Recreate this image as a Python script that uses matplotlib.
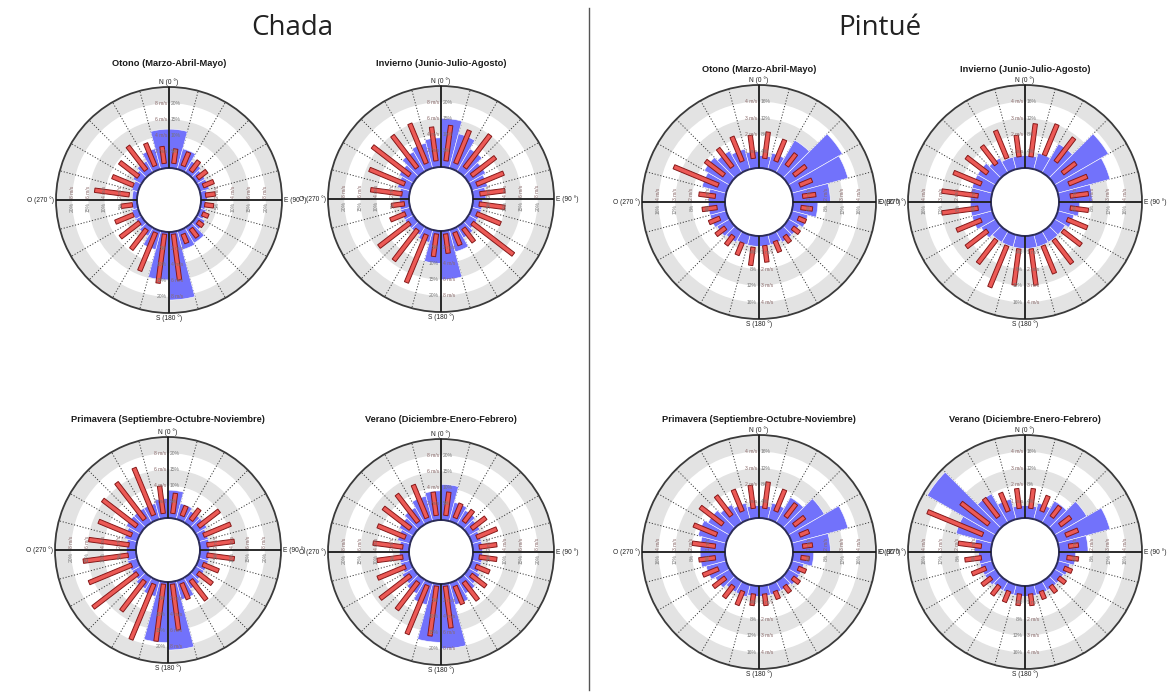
import numpy as np
import matplotlib
matplotlib.use("Agg")
import matplotlib.pyplot as plt
from matplotlib.lines import Line2D

W, H, DPI = 1170, 694, 100

# 24 direction sectors of 15 degrees, centred on 7.5, 22.5, ... (N = 0, clockwise)
sector_deg = np.arange(7.5, 360, 15)

# ---- Chada: frequency (%) and speed range low/high (m/s) per sector ----
chada_otono_freq = [12, 6.5, 4, 3, 3, 2, 1.5, 2, 3, 5.5, 6, 21,
                    14.8, 6, 3, 2, 2, 1.5, 1.5, 2, 3, 4, 6.5, 12]
chada_otono_low = [0.6, 0.6, 0.5, 0.5, 0.6, 0.6, 0.5, 0.5, 0.5, 0.5, 0.6, 0.3,
                   0.3, 0.4, 0.6, 0.6, 0.8, 0.6, 1.0, 0.8, 0.8, 0.7, 0.6, 0.6]
chada_otono_high = [2.4, 2.4, 2.1, 1.9, 2.0, 1.8, 1.6, 1.3, 1.3, 1.8, 1.8, 6.0,
                    6.4, 5.5, 3.7, 3.6, 3.2, 2.0, 5.3, 3.6, 3.7, 4.4, 3.6, 2.7]

chada_invierno_freq = [15, 11, 8, 6, 5, 4, 3, 3, 3, 4, 7, 15,
                       10, 4, 3, 3, 3, 3, 3, 4, 5, 7, 8, 9]
chada_invierno_low = [0.8, 0.8, 0.9, 0.8, 0.8, 0.9, 0.8, 0.8, 0.9, 0.6, 0.5, 0.4,
                      0.4, 0.8, 0.8, 0.9, 0.8, 0.6, 0.9, 0.9, 0.9, 0.9, 0.8, 0.8]
chada_invierno_high = [5.2, 5.2, 6.0, 4.5, 4.4, 4.0, 4.0, 4.0, 7.3, 2.7, 2.2, 2.8,
                       3.2, 7.2, 5.6, 5.7, 2.8, 2.2, 4.8, 5.6, 6.7, 5.9, 6.1, 5.0]

chada_primavera_freq = [8.6, 5, 4, 4, 3, 3, 3, 3, 3, 4, 6, 21,
                        18.7, 5, 4, 3, 3, 3, 3, 4, 5, 5, 5, 6]
chada_primavera_low = [0.6, 0.6, 0.7, 0.8, 0.8, 0.9, 0.9, 0.7, 0.7, 0.7, 0.5, 0.3,
                       0.3, 0.6, 0.8, 0.8, 0.9, 1.0, 0.9, 0.9, 0.9, 0.8, 0.7, 0.6]
chada_primavera_high = [3.1, 1.9, 2.4, 4.0, 4.4, 4.3, 4.3, 2.8, 2.9, 3.8, 2.6, 6.0,
                        7.4, 8.0, 5.5, 7.7, 6.6, 6.6, 5.9, 5.3, 6.2, 6.5, 7.0, 4.0]

chada_verano_freq = [11, 6, 5, 4, 3, 3, 3, 3, 4, 5, 7, 20,
                     18, 7, 5, 4, 3, 3, 3, 4, 5, 6, 8, 9]
chada_verano_low = [0.6, 0.6, 0.7, 0.8, 0.8, 0.8, 0.8, 0.7, 0.7, 0.7, 0.6, 0.3,
                    0.3, 0.5, 0.7, 0.8, 0.8, 0.8, 0.8, 0.8, 0.8, 0.7, 0.6, 0.6]
chada_verano_high = [3.5, 2.5, 2.5, 3.0, 3.5, 3.0, 3.0, 2.5, 3.0, 3.5, 3.0, 5.5,
                     6.5, 7.0, 5.0, 5.5, 4.5, 4.0, 4.5, 4.5, 5.0, 5.0, 5.0, 3.5]

# ---- Pintué ----
pintue_otono_freq = [3, 4, 9, 15, 14, 9, 6, 4, 3, 3, 2.5, 2.5,
                     2.5, 2.5, 3, 3.5, 4, 4, 4, 6, 7, 6, 5, 4]
pintue_otono_low = [0.6, 0.6, 0.7, 0.6, 0.6, 0.6, 0.5, 0.5, 0.5, 0.5, 0.5, 0.6,
                    0.7, 0.6, 0.5, 0.5, 0.5, 0.5, 0.6, 0.6, 0.6, 0.6, 0.6, 0.6]
pintue_otono_high = [2.2, 2.0, 1.6, 1.5, 1.4, 1.4, 1.2, 1.0, 1.0, 1.0, 1.2, 1.6,
                     1.8, 1.4, 1.2, 1.2, 1.2, 1.4, 1.6, 3.5, 2.0, 2.0, 2.2, 2.0]

pintue_invierno_freq = [3, 4, 8, 15, 13, 8, 5, 4, 3, 3, 3, 3,
                        3, 3, 3, 4, 5, 5, 5, 5, 5, 4, 3, 3]
pintue_invierno_low = [0.7, 1.0, 1.0, 0.8, 0.8, 0.7, 0.7, 0.7, 0.8, 0.8, 0.8, 0.8,
                       0.8, 0.8, 0.8, 0.8, 0.8, 0.8, 0.8, 0.8, 0.8, 0.8, 0.8, 0.7]
pintue_invierno_high = [2.7, 3.0, 2.8, 1.8, 2.0, 1.8, 1.8, 2.0, 2.2, 2.6, 2.6, 3.0,
                        3.0, 3.5, 2.6, 2.4, 2.4, 3.0, 3.0, 2.6, 2.4, 2.2, 2.6, 2.0]

pintue_primavera_freq = [3, 4, 7, 10, 14, 9, 5, 3, 3, 2.5, 2.5, 2.5,
                         2.5, 3, 3, 4, 5, 6, 6, 7, 6, 5, 4, 3]
pintue_primavera_low = [0.6, 0.6, 0.6, 0.6, 0.6, 0.6, 0.5, 0.5, 0.5, 0.5, 0.5, 0.5,
                        0.5, 0.5, 0.5, 0.5, 0.6, 0.6, 0.6, 0.7, 0.7, 0.7, 0.6, 0.6]
pintue_primavera_high = [2.2, 2.0, 1.6, 1.4, 1.2, 1.2, 1.0, 1.0, 1.0, 1.0, 1.0, 1.2,
                         1.2, 1.4, 1.4, 1.4, 1.6, 1.6, 2.0, 2.2, 2.4, 2.2, 2.0, 2.0]

pintue_verano_freq = [3, 4, 6, 9, 13, 7, 4, 3, 2.5, 2.5, 2.5, 2.5,
                      2.5, 2.5, 2.5, 3, 3, 3, 4, 9, 19, 8, 5, 3]
pintue_verano_low = [0.6, 0.6, 0.6, 0.6, 0.6, 0.6, 0.5, 0.5, 0.5, 0.5, 0.5, 0.5,
                     0.5, 0.5, 0.5, 0.5, 0.5, 0.6, 0.6, 0.7, 0.7, 0.6, 0.6, 0.6]
pintue_verano_high = [1.8, 1.6, 1.4, 1.4, 1.4, 1.2, 1.2, 1.0, 1.0, 1.0, 1.0, 1.2,
                      1.2, 1.2, 1.2, 1.2, 1.4, 1.6, 2.0, 4.3, 2.8, 2.0, 1.8, 1.8]

season_titles = ["Otono (Marzo-Abril-Mayo)", "Invierno (Junio-Julio-Agosto)",
                 "Primavera (Septiembre-Octubre-Noviembre)", "Verano (Diciembre-Enero-Febrero)"]

BLUE = "#7272fb"
RED_FILL = "#ec5a56"
RED_EDGE = "#861818"
BAND = "#e3e3e3"

fig = plt.figure(figsize=(W / DPI, H / DPI), dpi=DPI)


def add_rose(cx, cy, R, r_hole, ring_pct, ring_ms, title, title_y, freq, low, high):
    """Wind rose: blue frequency sectors plus red speed-range bars."""
    rmax = 5 * ring_pct
    ax = fig.add_axes([(cx - R) / W, 1 - (cy + R) / H, 2 * R / W, 2 * R / H],
                      projection="polar")
    ax.set_theta_zero_location("N")
    ax.set_theta_direction(-1)
    ax.set_ylim(0, rmax)
    rorig = -rmax * r_hole / (R - r_hole)
    ax.set_rorigin(rorig)
    ax.set_xticks([])
    ax.set_yticks([])
    ax.grid(False)
    ax.set_facecolor("white")
    ax.spines["polar"].set_color("#3a3a3a")
    ax.spines["polar"].set_linewidth(1.3)
    ax.spines["inner"].set_color("#2c2c58")
    ax.spines["inner"].set_linewidth(1.4)

    # alternating grey rings
    for k in range(0, 5, 2):
        ax.bar(0, ring_pct, width=2 * np.pi, bottom=k * ring_pct, color=BAND,
               linewidth=0, zorder=0.5)

    # dotted spokes every 15 degrees
    for a in range(15, 360, 15):
        if a % 90:
            ax.plot([np.radians(a)] * 2, [0, rmax], color="#3a3a3a", lw=0.7,
                    ls=(0, (1.2, 1.8)), zorder=1)

    th = np.radians(sector_deg)
    ax.bar(th, freq, width=np.radians(15), bottom=0, color=BLUE,
           edgecolor="white", linewidth=0.4, zorder=2)

    # speed bars: straight rectangles of constant pixel width
    scale = ring_pct / ring_ms
    hw = 2.2 * rmax / (R - r_hole)
    for t, lo, hi in zip(th, low, high):
        d_in = lo * scale - rorig
        d_out = hi * scale - rorig
        ts, rs = [], []
        for d, sg in ((d_in, 1), (d_out, 1), (d_out, -1), (d_in, -1)):
            ts.append(t + sg * np.arctan(hw / d))
            rs.append(np.hypot(d, hw) + rorig)
        ax.fill(ts, rs, facecolor=RED_FILL, edgecolor=RED_EDGE, lw=0.7, zorder=3)

    # main axes
    for a in (0, 90, 180, 270):
        ax.plot([np.radians(a)] * 2, [0, rmax], color="#1a1a1a", lw=1.3, zorder=5)

    # ring labels along the axes
    lab_kw = dict(textcoords="offset points", fontsize=3.6, zorder=6,
                  annotation_clip=False, family="Liberation Sans")
    for k in range(1, 5):
        r = k * ring_pct
        ms = f"{k * ring_ms:g} m/s"
        pc = f"{k * ring_pct:g}%"
        ax.annotate(ms, (0, r), xytext=(-1.5, 0), ha="right", va="center",
                    color="#8a6a6a", **lab_kw)
        ax.annotate(pc, (0, r), xytext=(1.5, 0), ha="left", va="center",
                    color="#777777", **lab_kw)
        ax.annotate(pc, (np.pi, r), xytext=(-1.5, 0), ha="right", va="center",
                    color="#777777", **lab_kw)
        ax.annotate(ms, (np.pi, r), xytext=(1.5, 0), ha="left", va="center",
                    color="#8a6a6a", **lab_kw)
        for a in (np.pi / 2, 3 * np.pi / 2):
            ax.annotate(ms, (a, r), xytext=(0, 1.5), ha="center", va="bottom",
                        rotation=90, color="#8a6a6a", **lab_kw)
            ax.annotate(pc, (a, r), xytext=(0, -1.5), ha="center", va="top",
                        rotation=90, color="#777777", **lab_kw)

    dkw = dict(textcoords="offset points", fontsize=4.8, color="#222222",
               annotation_clip=False, family="Liberation Sans", zorder=6)
    ax.annotate("N (0 °)", (0, rmax), xytext=(0, 1), ha="center", va="bottom", **dkw)
    ax.annotate("S (180 °)", (np.pi, rmax), xytext=(0, -1), ha="center", va="top", **dkw)
    ax.annotate("E (90 °)", (np.pi / 2, rmax), xytext=(1.5, 0), ha="left", va="center", **dkw)
    ax.annotate("O (270 °)", (3 * np.pi / 2, rmax), xytext=(-1.5, 0), ha="right", va="center", **dkw)

    fig.text(cx / W, 1 - title_y / H, title, ha="center", va="center",
             fontsize=6.7, fontweight="bold", family="Liberation Sans", color="#1a1a1a")


chada = [(chada_otono_freq, chada_otono_low, chada_otono_high),
         (chada_invierno_freq, chada_invierno_low, chada_invierno_high),
         (chada_primavera_freq, chada_primavera_low, chada_primavera_high),
         (chada_verano_freq, chada_verano_low, chada_verano_high)]
pintue = [(pintue_otono_freq, pintue_otono_low, pintue_otono_high),
          (pintue_invierno_freq, pintue_invierno_low, pintue_invierno_high),
          (pintue_primavera_freq, pintue_primavera_low, pintue_primavera_high),
          (pintue_verano_freq, pintue_verano_low, pintue_verano_high)]

chada_pos = [(169, 200, 63), (441, 199, 63), (168, 550, 420), (441, 552, 420)]
pintue_pos = [(759, 202, 70), (1025, 202, 70), (759, 552, 420), (1025, 552, 420)]

for (cx, cy, ty), title, (f, lo, hi) in zip(chada_pos, season_titles, chada):
    add_rose(cx, cy, 113, 32, 5, 2, title, ty, f, lo, hi)
for (cx, cy, ty), title, (f, lo, hi) in zip(pintue_pos, season_titles, pintue):
    add_rose(cx, cy, 117, 34, 4, 1, title, ty, f, lo, hi)

fig.text(292 / W, 1 - 28 / H, "Chada", ha="center", va="center", fontsize=20,
         family="Open Sans", color="#222222")
fig.text(880 / W, 1 - 28 / H, "Pintué", ha="center", va="center", fontsize=20,
         family="Open Sans", color="#222222")
fig.add_artist(Line2D([589 / W, 589 / W], [1 - 8 / H, 1 - 690 / H], color="#555555", lw=1))

fig.savefig("out.png", dpi=DPI)
